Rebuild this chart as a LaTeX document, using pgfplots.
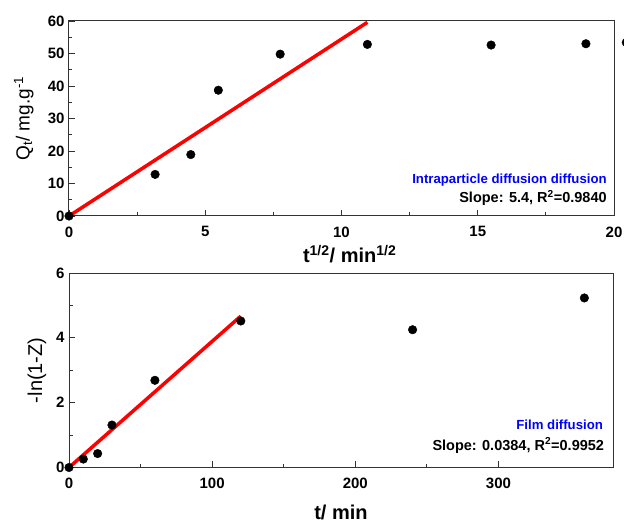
\documentclass[border=0pt]{standalone}
\usepackage{fontspec}
\setmainfont{Liberation Sans}
\usepackage{pgfplots}
\pgfplotsset{compat=1.18}
\begin{document}
\begin{tikzpicture}
\pgfplotsset{
  every axis/.append style={
    scale only axis,
    axis line style={black!80, line width=1pt},
    tick style={black!80, line width=0.9pt},
    tick align=inside,
    xtick pos=bottom, ytick pos=left,
    major tick length=6pt, minor tick length=3.5pt,
    minor tick num=1,
    tick label style={font=\fontsize{15}{18}\bfseries\selectfont},
    xticklabel style={yshift=-7pt},
    yticklabel style={xshift=-1pt},
    /pgf/number format/assume math mode=true,
    clip=false,
  },
}
\begin{axis}[name=top, anchor=north west, at={(69pt,-21pt)}, width=545pt, height=195pt,
  xmin=0, xmax=20, ymin=0, ymax=60,
  xtick={0,5,10,15,20}, ytick={0,10,20,30,40,50,60},
  xlabel={\fontsize{20}{24}\bfseries\selectfont t\textsuperscript{1/2}/ min\textsuperscript{1/2}},
  xlabel style={at={(axis description cs:0.515,-0.241)}, anchor=base},
  ylabel={\fontsize{19}{22}\selectfont Q\textsubscript{t}/ mg.g\textsuperscript{-1}},
  ylabel style={at={(axis description cs:-0.083,0.5)}, anchor=center, rotate=0},
]
\addplot[only marks, mark=*, mark size=4.3pt, black] coordinates {
  (0,0) (3.16,12.8) (4.47,18.9) (5.48,38.7) (7.75,49.8) (10.95,52.8) (15.49,52.6) (18.97,53.0) (20.45,53.4)
};
\addplot[red, line width=3.5pt] coordinates {(0,0) (10.95,59.6)};
\node[anchor=base east, text=blue, font=\fontsize{13.2}{15}\bfseries\selectfont] at (rel axis cs:0.993,0.169) {Intraparticle diffusion diffusion};
\node[anchor=base east, font=\fontsize{14.5}{17}\bfseries\selectfont] at (rel axis cs:0.993,0.067) {Slope: 5.4, R\textsuperscript{2}=0.9840};
\end{axis}
\begin{axis}[name=bot, anchor=north west, at={(69pt,-273pt)}, width=544pt, height=194.5pt,
  xmin=0, xmax=380, ymin=0, ymax=6,
  xtick={0,100,200,300}, ytick={0,2,4,6},
  xlabel={\fontsize{20}{24}\bfseries\selectfont t/ min},
  xlabel style={at={(axis description cs:0.5,-0.268)}, anchor=base},
  ylabel={\fontsize{20}{24}\selectfont -ln(1-Z)},
  ylabel style={at={(axis description cs:-0.059,0.5)}, anchor=center, rotate=0},
]
\addplot[only marks, mark=*, mark size=4.3pt, black] coordinates {
  (0,0) (10,0.26) (20,0.43) (30,1.31) (60,2.69) (120,4.52) (240,4.25) (360,5.23)
};
\addplot[red, line width=3.5pt] coordinates {(0,0) (120,4.67)};
\node[anchor=base east, text=blue, font=\fontsize{13.2}{15}\bfseries\selectfont] at (rel axis cs:0.988,0.197) {Film diffusion};
\node[anchor=base east, font=\fontsize{14.5}{17}\bfseries\selectfont] at (rel axis cs:0.99,0.089) {Slope: 0.0384, R\textsuperscript{2}=0.9952};
\end{axis}
\pgfresetboundingbox
\path[use as bounding box] (0pt,0pt) rectangle (624pt,-524pt);
\end{tikzpicture}
\end{document}
